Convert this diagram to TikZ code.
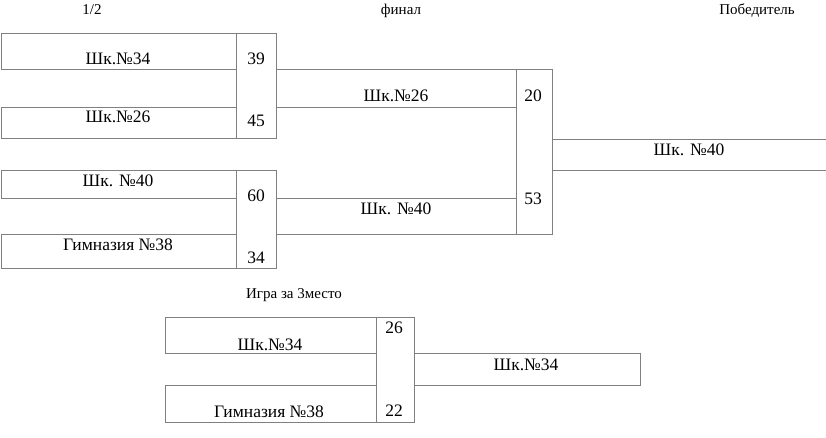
\documentclass[tikz,border=0pt]{standalone}
\usepackage{fontspec}
\setmainfont{Liberation Serif}
\usetikzlibrary{fit}
\definecolor{linegray}{RGB}{128,128,128}
\tikzset{
  box/.style={draw=linegray, line width=0.9pt, inner sep=0pt},
  txt/.style={anchor=base, inner sep=0pt, yshift=-5.8pt, font=\fontsize{17.5}{20}\selectfont},
  head/.style={anchor=base, inner sep=0pt, yshift=-5pt, font=\fontsize{15}{18}\selectfont}
}
\begin{document}
\begin{tikzpicture}[x=1pt,y=-1pt]
\useasboundingbox (0,0) rectangle (826,437);
% headers
\node[head] (h1) at (92,9) {1/2};
\node[head] (h2) at (401,9) {финал};
\node[head] (h3) at (757,9) {Победитель};
\node[head] (h4) at (294,293) {Игра за 3место};
% semifinal 1
\node[box, fit={(1,33) (236,69)}] (A) {};
\node[box, fit={(1,107) (236,138)}] (B) {};
\node[box, fit={(236,33) (276,138)}] (S1) {};
\node[box, fit={(276,69) (516,107)}] (W1) {};
% semifinal 2
\node[box, fit={(1,170) (236,198)}] (C) {};
\node[box, fit={(1,234) (236,268)}] (D) {};
\node[box, fit={(236,170) (276,268)}] (S2) {};
\node[box, fit={(276,198) (516,234)}] (W2) {};
% final
\node[box, fit={(516,69) (552,234)}] (F) {};
\node[box, fit={(552,139) (828,170)}] (WF) {};
% third place
\node[box, fit={(165,317) (376,353)}] (E) {};
\node[box, fit={(165,385) (376,422)}] (G) {};
\node[box, fit={(376,317) (414,422)}] (S3) {};
\node[box, fit={(414,353) (640,385)}] (W3) {};
% texts
\node[txt] (tA) at (118,59) {Шк.№34};
\node[txt] (tB) at (118,117) {Шк.№26};
\node[txt] (s39) at (256,59) {39};
\node[txt] (s45) at (256,121) {45};
\node[txt] (tW1) at (396,96) {Шк.№26};
\node[txt] (tC) at (118,181) {Шк. №40};
\node[txt] (tD) at (118,245) {Гимназия №38};
\node[txt] (s60) at (256,196) {60};
\node[txt] (s34) at (256,258) {34};
\node[txt] (tW2) at (396,209) {Шк. №40};
\node[txt] (s20) at (533,96) {20};
\node[txt] (s53) at (533,199) {53};
\node[txt] (tWF) at (689,150) {Шк. №40};
\node[txt] (tE) at (270,345) {Шк.№34};
\node[txt] (tG) at (269,412) {Гимназия №38};
\node[txt] (s26) at (394,328) {26};
\node[txt] (s22) at (394,411) {22};
\node[txt] (tW3) at (526,365) {Шк.№34};
\end{tikzpicture}
\end{document}
